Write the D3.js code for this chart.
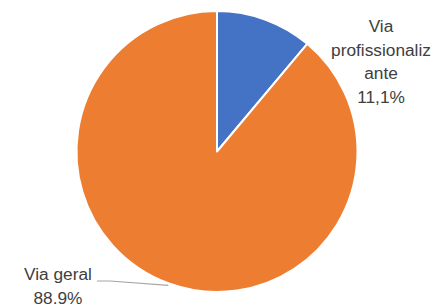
<!DOCTYPE html>
<html><head><meta charset="utf-8">
<script src="https://cdn.jsdelivr.net/npm/d3@7"></script>
<style>html,body{margin:0;padding:0;background:#fff;}svg{display:block;}</style>
</head><body>
<script>
const categories = ["Via profissionalizante", "Via geral"];
const values = [11.1, 88.9];
const valueLabels = ["11,1%", "88.9%"];
const labelLines = [["Via", "profissionaliz", "ante", "11,1%"], ["Via geral", "88.9%"]];
const colors = ["#4472C4", "#ED7D31"];

const W = 436, H = 304;
const cx = 217, cy = 151.5, R = 140.5;
const svg = d3.select("body").append("svg").attr("width", W).attr("height", H);
const g = svg.append("g").attr("transform", `translate(${cx},${cy})`);

const pie = d3.pie().sort(null).value(d => d)(values);
const arc = d3.arc().innerRadius(0).outerRadius(R);

g.selectAll("path.slice").data(pie).join("path")
  .attr("class", "slice")
  .attr("d", arc)
  .attr("fill", (d, i) => colors[i])
  .attr("stroke", "#fff").attr("stroke-width", 2).attr("stroke-linejoin", "round");

const font = "'Liberation Sans', Arial, sans-serif";
// label positions (layout)
const labelPos = [{x: 381, y0: 32, dy: 23.7}, {x: 58, y0: 280, dy: 23.5}];

labelLines.forEach((lines, i) => {
  const p = labelPos[i];
  const t = svg.append("text")
    .attr("font-family", font).attr("font-size", 17.3)
    .attr("fill", "#404040").attr("text-anchor", "middle");
  lines.forEach((ln, k) => {
    t.append("tspan").attr("x", p.x).attr("y", p.y0 + k * p.dy).text(ln);
  });
});

// leader line for "Via geral"
const d1 = pie[1];
const mid = (d1.startAngle + d1.endAngle) / 2;
const ex = cx + Math.sin(mid) * (R + 2), ey = cy - Math.cos(mid) * (R + 2);
svg.append("polyline")
  .attr("points", `97,281 110,281 ${ex},${ey}`)
  .attr("fill", "none").attr("stroke", "#A6A6A6").attr("stroke-width", 1.2);
</script>
</body></html>
